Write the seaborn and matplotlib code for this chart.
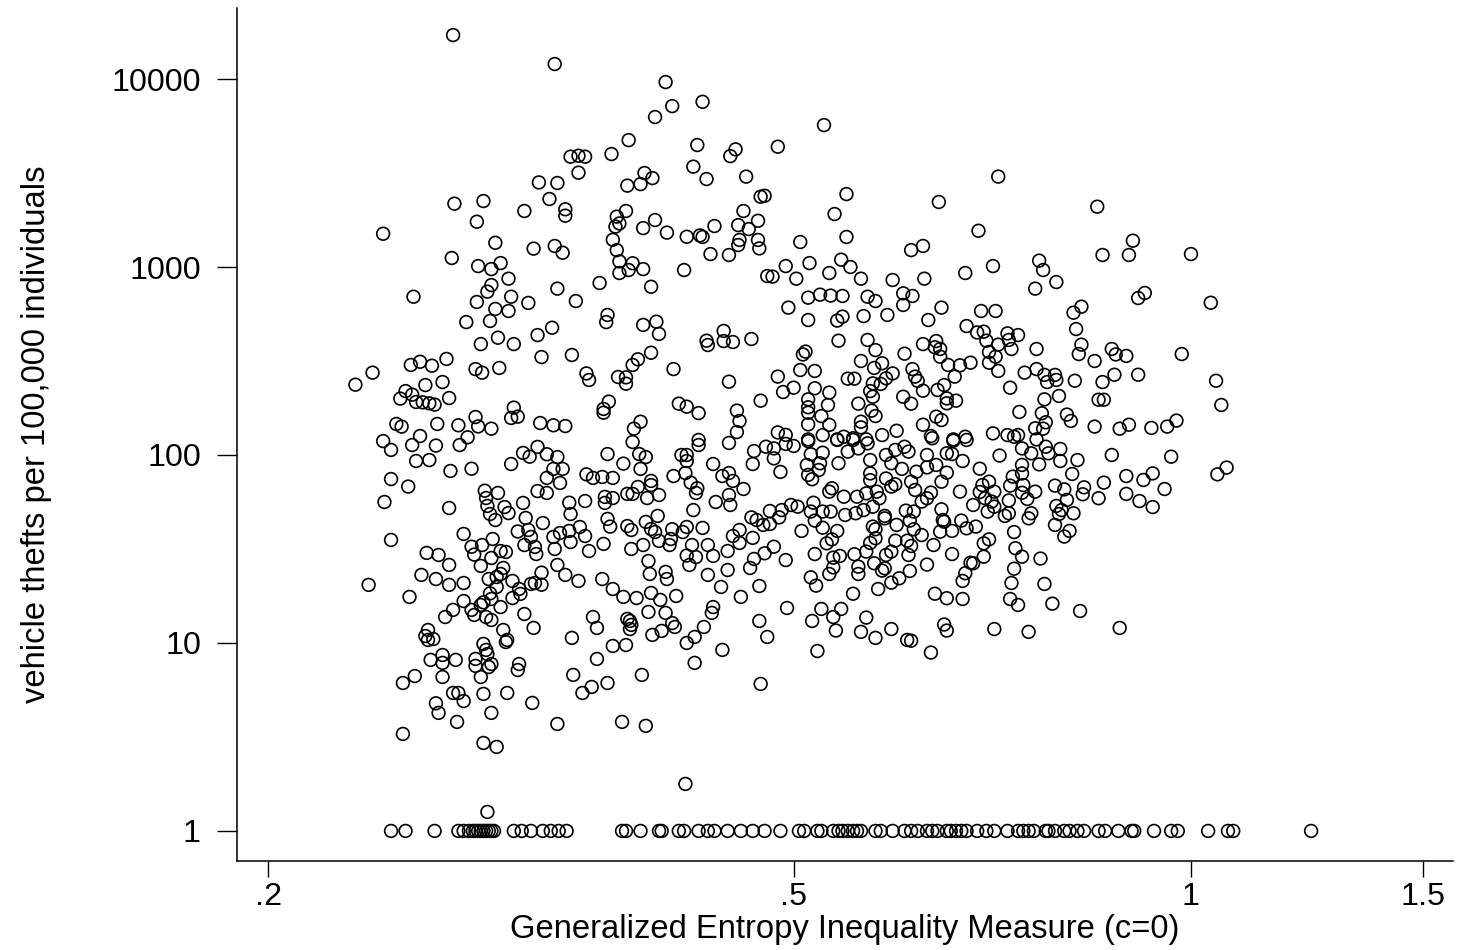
import numpy as np
import pandas as pd
import matplotlib
matplotlib.use('AGG')
import matplotlib.pyplot as plt
from matplotlib.ticker import FixedLocator, FixedFormatter, NullLocator
import seaborn as sns

sns.set_theme(style="ticks")
plt.rcParams['font.family'] = ['Liberation Sans', 'DejaVu Sans']

# values, kept as log10 of the axis value
upper_left_x = [-.559,-.482,-.398,-.370,-.393,-.406,-.426,-.374,-.345,-.349,
 -.439,-.470,-.464,-.459,-.377,-.464,-.414,-.408,-.494,-.480,
 -.417,-.427,-.367,-.337,-.558,-.536,-.486,-.505,-.474,-.474,
 -.428,-.435,-.433,-.436,-.406,-.339,-.326,-.328,-.541,-.415,
 -.397,-.382,-.372,-.370,-.361,-.343,-.335,-.612,-.438,-.342,
 -.343,-.328,-.327,-.527,-.498,-.482,-.476,-.435,-.364,-.350,
 -.560,-.540,-.530,-.523,-.433,-.423,-.426,-.433,-.415,-.384,
 -.517,-.530,-.533,-.448,-.480,-.409,-.589,-.515,-.541,-.502,
 -.466,-.527,-.517,-.442,-.443,-.549,-.531,-.415,-.405,-.484,
 -.495,-.403,-.525,-.354,-.367,-.354,-.347,-.333,-.366,-.538,
 -.513,-.409,-.469,-.492,-.564,-.584,-.591,-.575,-.419,-.423,
 -.542,-.537,-.524,-.392,-.458,-.456,-.434,-.428,-.428,-.620,
 -.633,-.567,-.580,-.595,-.590,-.599,-.587,-.582,-.577,-.573,
 -.562,-.350,-.326,-.441,-.445,-.445,-.388,-.382,-.373,-.344,
 -.342,-.513,-.515,-.510,-.542,-.602,-.598,-.571,-.555,-.540,
 -.530,-.493,-.483,-.474,-.417,-.422,-.344]
upper_left_y = [4.234,4.080,3.984,3.879,3.856,3.798,3.675,3.649,3.626,3.590,
 3.601,3.587,3.592,3.587,3.534,3.502,3.500,3.473,3.450,3.447,
 3.441,3.433,3.468,3.481,3.337,3.351,3.362,3.298,3.307,3.273,
 3.298,3.268,3.232,3.215,3.250,3.298,3.374,3.246,3.241,3.207,
 3.183,3.161,3.168,3.160,3.218,3.223,3.202,3.177,3.145,3.144,
 3.117,3.144,3.099,3.129,3.098,3.112,3.076,3.090,3.069,3.064,
 3.048,3.005,2.989,3.021,3.030,3.020,2.984,2.968,2.989,2.984,
 2.938,2.904,2.869,2.915,2.885,2.895,2.842,2.842,2.814,2.809,
 2.819,2.777,2.766,2.745,2.707,2.707,2.713,2.692,2.709,2.677,
 2.638,2.644,2.624,2.660,2.608,2.606,2.601,2.617,2.585,2.590,
 2.590,2.544,2.532,2.521,2.511,2.496,2.479,2.475,2.509,2.479,
 2.457,2.438,2.463,2.457,2.434,2.399,2.415,2.413,2.379,2.438,
 2.374,2.388,2.372,2.340,2.321,2.300,2.282,2.280,2.275,2.268,
 2.303,2.390,2.289,2.284,2.245,2.225,2.273,2.257,2.223,2.236,
 2.181,2.252,2.197,2.204,2.202,2.165,2.151,2.165,2.158,2.152,
 2.140,2.170,2.158,2.154,2.177,2.140,2.122]

upper_right_x = [-.278,-.313,-.146,-.261,-.323,-.191,-.071,-.270,-.161,-.261,
 -.296,-.044,-.212,-.203,-.067,-.047,.000,-.265,-.289,-.258,
 -.150,-.115,-.112,-.307,-.321,-.317,-.299,-.274,-.250,-.226,
 -.202,-.171,-.102,-.118,-.035,-.040,.015,-.290,-.281,-.273,
 -.264,-.245,-.239,-.218,-.211,-.218,-.305,-.189,-.159,-.148,
 -.083,-.089,-.290,-.264,-.268,-.248,-.230,-.199,-.170,-.162,
 -.157,-.087,-.139,-.131,-.267,-.245,-.203,-.193,-.155,-.138,
 -.146,-.083,-.239,-.194,-.190,-.136,-.117,-.060,-.292,-.294,
 -.217,-.153,-.007,-.085,-.057,-.049,-.250,-.190,-.148,-.073,
 -.234,-.184,-.175,-.167,-.153,-.240,-.296,-.285,-.211,-.146,
 -.126,-.117,-.226,-.313,-.260,-.255,-.231,-.209,-.179,-.111,
 -.103,-.102,-.058,-.040,-.088,-.067,-.109,.019,-.241,-.235,
 -.207,-.301,-.285,-.187,-.137,-.309,-.274,-.243,-.203,-.192,
 -.241,-.218,-.100,-.290,-.252,-.212,-.275,-.185,-.178,-.185,
 -.111,-.070,-.066,-.290,-.290,-.242,.023,-.130,-.113,-.094,
 -.280,-.239,-.193,-.091,-.250,-.189,-.290,-.274,-.110,-.203,
 -.073,-.047,-.011,-.018,-.054,-.030,-.118,-.112,-.250,-.223,
 -.313,-.307,-.290,-.279,-.268,-.263,-.256,-.246,-.234,-.197,
 -.180,-.171,-.150,-.139,-.131,-.134,-.117]
upper_right_y = [3.755,3.640,3.481,3.388,3.379,3.346,3.321,3.282,3.193,3.160,
 3.133,3.140,3.090,3.112,3.064,3.064,3.069,3.039,3.021,3.000,
 3.005,3.034,2.984,3.005,2.952,2.949,2.938,2.968,2.938,2.931,
 2.938,2.968,2.920,2.885,2.862,2.835,2.810,2.837,2.853,2.848,
 2.846,2.842,2.819,2.860,2.846,2.798,2.784,2.784,2.766,2.766,
 2.789,2.757,2.718,2.736,2.715,2.739,2.745,2.718,2.686,2.652,
 2.656,2.670,2.647,2.638,2.608,2.612,2.590,2.606,2.608,2.612,
 2.587,2.587,2.558,2.573,2.564,2.564,2.564,2.564,2.550,2.535,
 2.539,2.548,2.537,2.537,2.535,2.527,2.500,2.523,2.523,2.500,
 2.488,2.479,2.477,2.491,2.491,2.463,2.452,2.447,2.457,2.447,
 2.438,2.457,2.434,2.417,2.406,2.406,2.408,2.417,2.417,2.426,
 2.426,2.399,2.427,2.427,2.395,2.388,2.388,2.395,2.381,2.378,
 2.394,2.358,2.355,2.372,2.358,2.335,2.332,2.340,2.342,2.346,
 2.310,2.310,2.314,2.296,2.273,2.273,2.266,2.301,2.289,2.275,
 2.296,2.294,2.294,2.254,2.225,2.236,2.266,2.229,2.222,2.215,
 2.207,2.207,2.204,2.181,2.177,2.186,2.163,2.160,2.174,2.161,
 2.151,2.161,2.183,2.151,2.140,2.144,2.142,2.140,2.147,2.129,
 2.120,2.107,2.083,2.106,2.083,2.097,2.089,2.083,2.106,2.101,
 2.083,2.097,2.115,2.106,2.106,2.097,2.083]

lower_left_x = [-.612,-.606,-.590,-.584,-.572,-.554,-.548,-.587,-.577,-.561,
 -.545,-.606,-.593,-.611,-.562,-.606,-.515,-.506,-.501,-.495,
 -.488,-.480,-.442,-.430,-.423,-.418,-.413,-.417,-.386,-.382,
 -.382,-.373,-.373,-.362,-.350,-.331,-.332,-.483,-.476,-.488,
 -.478,-.495,-.488,-.458,-.453,-.446,-.438,-.409,-.409,-.419,
 -.392,-.383,-.379,-.374,-.375,-.355,-.350,-.347,-.339,-.535,
 -.525,-.534,-.533,-.520,-.517,-.531,-.527,-.506,-.504,-.491,
 -.510,-.502,-.500,-.551,-.529,-.545,-.537,-.543,-.579,-.570,
 -.562,-.530,-.538,-.523,-.519,-.505,-.497,-.496,-.483,-.478,
 -.471,-.463,-.459,-.470,-.482,-.456,-.445,-.471,-.459,-.470,
 -.444,-.444,-.438,-.427,-.423,-.412,-.403,-.442,-.440,-.427,
 -.424,-.413,-.404,-.409,-.403,-.406,-.424,-.415,-.393,-.394,
 -.395,-.385,-.382,-.370,-.377,-.360,-.350,-.349,-.378,-.366,
 -.382,-.375,-.380,-.362,-.351,-.347,-.342,-.342,-.333,-.329,
 -.332,-.331,-.334,-.351,-.366,-.356,-.341,-.327,-.411,-.410,
 -.398,-.397,-.480,-.474,-.464,-.446,-.438,-.430,-.420,-.409,
 -.402,-.390,-.411,-.398,-.362,-.363,-.327,-.369,-.376,-.382,
 -.393,-.391,-.401,-.408,-.453,-.450,-.427,-.425,-.424,-.425,
 -.469,-.438,-.428,-.450,-.355,-.376,-.416,-.468,-.442,-.454,
 -.461,-.326,-.431,-.413,-.480,-.383,-.492,-.497,-.500,-.492,
 -.514,-.521,-.523,-.526,-.532,-.526,-.509,-.508,-.514,-.531,
 -.530,-.536,-.523,-.551,-.562,-.572,-.583,-.623,-.592,-.551,
 -.559,-.565,-.545,-.543,-.538,-.534,-.530,-.505,-.498,-.521,
 -.518,-.519,-.578,-.580,-.578,-.574,-.536,-.534,-.533,-.567,
 -.576,-.567,-.557,-.542,-.542,-.530,-.532,-.509,-.510,-.538,
 -.567,-.588,-.597,-.559,-.555,-.536,-.518,-.551,-.572,-.570,
 -.530,-.499,-.556,-.597,-.536,-.526,-.533]
lower_left_y = [2.074,2.027,2.053,2.101,2.050,2.053,2.094,1.968,1.973,1.915,
 1.927,1.872,1.832,1.750,1.718,1.548,1.952,2.011,1.991,2.043,
 2.004,1.989,2.005,1.954,2.069,2.005,1.989,1.926,2.000,2.000,
 1.968,2.080,2.053,1.952,2.064,2.021,1.952,1.926,1.926,1.878,
 1.851,1.808,1.798,1.897,1.878,1.883,1.878,1.862,1.840,1.830,
 1.888,1.904,1.853,1.823,1.798,1.888,1.904,1.862,1.819,1.810,
 1.798,1.771,1.729,1.723,1.691,1.686,1.654,1.745,1.665,1.638,
 1.593,1.601,1.564,1.580,1.553,1.512,1.521,1.470,1.479,1.468,
 1.415,1.452,1.410,1.489,1.484,1.521,1.511,1.473,1.564,1.585,
 1.596,1.617,1.569,1.537,1.500,1.489,1.527,1.746,1.755,1.686,
 1.777,1.745,1.771,1.793,1.793,1.771,1.787,1.660,1.619,1.622,
 1.601,1.644,1.676,1.606,1.543,1.590,1.500,1.521,1.605,1.553,
 1.521,1.590,1.617,1.612,1.707,1.750,1.787,1.734,1.521,1.521,
 1.465,1.457,1.415,1.463,1.489,1.569,1.601,1.532,1.668,1.654,
 1.559,1.447,1.399,1.388,1.362,1.298,1.245,1.303,1.436,1.367,
 1.378,1.340,1.415,1.362,1.330,1.340,1.287,1.245,1.239,1.266,
 1.229,1.250,1.165,1.160,1.191,1.160,1.117,1.085,1.032,1.000,
 1.106,1.085,1.064,1.043,1.138,1.080,1.128,1.117,1.096,1.074,
 1.027,.984,.989,.915,.963,.894,.830,.830,.787,.766,
 .734,.782,.580,.559,.569,.250,1.374,1.319,1.314,1.310,
 1.330,1.399,1.367,1.351,1.340,1.298,1.287,1.261,1.239,1.264,
 1.234,1.216,1.191,1.319,1.309,1.340,1.362,1.309,1.245,1.223,
 1.176,1.138,1.176,1.149,1.202,1.138,1.122,1.154,1.080,1.069,
 1.016,1.005,1.069,1.037,1.016,1.021,.995,.963,.941,.936,
 .910,.894,.910,.915,.878,.888,.872,.888,.856,.819,
 .819,.824,.787,.734,.734,.729,.734,.691,.679,.628,
 .628,.681,.580,.516,.468,.447,.101]

lower_right_x = [-.290,-.322,-.316,-.307,-.301,-.316,-.311,-.288,-.279,-.291,
 -.281,-.282,-.290,-.287,-.267,-.268,-.260,-.256,-.252,-.245,
 -.243,-.231,-.224,-.217,-.214,-.227,-.219,-.200,-.185,-.181,
 -.196,-.180,-.170,-.173,-.145,-.128,-.121,-.110,-.108,-.099,
 -.099,-.115,-.086,-.060,-.015,.027,.020,-.049,-.029,-.036,
 -.020,-.066,-.090,-.081,-.082,-.049,-.070,-.039,-.029,-.160,
 -.128,-.128,-.135,-.153,-.158,-.137,-.127,-.118,-.160,-.149,
 -.156,-.151,-.138,-.128,-.124,-.103,-.096,-.094,-.102,-.098,
 -.100,-.089,-.138,-.141,-.121,-.123,-.149,-.154,-.165,-.103,
 -.092,-.096,-.134,-.163,-.174,-.170,-.181,-.189,-.188,-.190,
 -.175,-.200,-.204,-.197,-.189,-.193,-.208,-.200,-.185,-.212,
 -.209,-.216,-.210,-.213,-.210,-.204,-.223,-.232,-.239,-.241,
 -.224,-.215,-.212,-.195,-.181,-.200,-.214,-.227,-.231,-.239,
 -.243,-.246,-.255,-.240,-.232,-.234,-.213,-.221,-.227,-.237,
 -.256,-.252,-.252,-.271,-.266,-.271,-.274,-.288,-.284,-.285,
 -.276,-.272,-.268,-.279,-.295,-.285,-.279,-.273,-.288,-.286,
 -.298,-.303,-.310,-.319,-.312,-.319,-.324,-.316,-.323,-.307,
 -.262,-.254,-.248,-.241,-.236,-.246,-.253,-.263,-.272,-.274,
 -.243,-.243,-.231,-.227,-.224,-.238,-.232,-.187,-.153,-.157,
 -.157,-.165,-.167,-.171,-.173,-.133,-.128,-.114,-.134,-.136,
 -.111,-.137,-.131,-.105,-.084,-.054,-.149,-.123,-.187,-.185,
 -.173,-.185,-.194,-.197,-.227,-.246,-.250,-.239,-.215,-.212,
 -.269,-.287,-.280,-.265,-.271,-.306,-.321,-.283]
lower_right_y = [2.074,2.044,2.035,2.059,2.048,1.982,1.910,2.004,2.012,1.947,
 1.956,1.920,1.894,1.871,1.956,2.080,2.018,2.080,2.035,2.062,
 1.973,2.000,2.027,2.044,2.018,1.956,1.926,2.000,2.009,2.005,
 2.089,2.076,2.080,1.968,1.997,2.035,2.009,2.044,2.009,2.032,
 1.968,1.950,1.973,2.000,1.991,1.933,1.897,1.888,1.902,1.867,
 1.819,1.853,1.899,1.828,1.791,1.793,1.770,1.755,1.723,1.927,
 1.947,1.902,1.885,1.858,1.840,1.837,1.840,1.805,1.803,1.805,
 1.770,1.752,1.758,1.799,1.766,1.837,1.817,1.761,1.729,1.707,
 1.686,1.690,1.690,1.676,1.690,1.663,1.725,1.699,1.734,1.628,
 1.596,1.566,1.590,1.619,1.651,1.610,1.596,1.711,1.654,1.592,
 1.805,1.770,1.752,1.800,1.858,1.947,1.911,1.934,1.906,1.858,
 1.814,1.704,1.699,1.651,1.605,1.574,1.628,1.663,1.605,1.619,
 1.544,1.544,1.516,1.521,1.473,1.417,1.468,1.486,1.468,1.557,
 1.532,1.486,1.472,1.424,1.397,1.385,1.383,1.344,1.321,1.287,
 1.262,1.406,1.367,1.454,1.463,1.402,1.367,1.349,1.305,1.473,
 1.530,1.551,1.596,1.613,1.596,1.651,1.699,1.699,1.699,1.746,
 1.725,1.734,1.707,1.702,1.668,1.633,1.628,1.512,1.477,1.441,
 1.681,1.690,1.707,1.725,1.770,1.796,1.778,1.778,1.823,1.805,
 1.902,1.866,1.875,1.832,1.844,1.805,1.676,1.645,1.551,1.530,
 1.459,1.424,1.427,1.371,1.330,1.504,1.459,1.449,1.395,1.319,
 1.314,1.234,1.202,1.209,1.170,1.080,1.074,1.059,1.098,1.066,
 1.234,1.238,1.262,.949,1.074,1.135,1.059,1.027,1.016,1.012,
 1.066,1.117,1.181,1.181,1.138,1.186,1.032,.957]

# places with exactly one theft per 100,000 sit on the bottom row
one_theft_x = [-.606,-.595,-.573,-.555,-.551,-.547,-.544,-.542,-.540,-.538,
 -.536,-.534,-.532,-.530,-.528,-.513,-.507,-.500,-.491,-.485,
 -.479,-.473,-.431,-.428,-.417,-.403,-.401,-.388,-.384,-.373,
 -.366,-.361,-.351,-.341,-.332,-.323,-.311,-.297,-.293,-.283,
 -.280,-.271,-.267,-.264,-.260,-.256,-.253,-.250,-.239,-.235,
 -.226,-.217,-.212,-.207,-.200,-.196,-.192,-.185,-.182,-.178,
 -.174,-.170,-.162,-.155,-.149,-.139,-.131,-.127,-.123,-.119,
 -.110,-.108,-.103,-.096,-.092,-.086,-.081,-.070,-.065,-.055,
 -.045,-.043,-.028,-.015,-.010,.013,.028,.032,.091]

x_ticks = [.2, .5, 1, 1.5]
x_labels = ['.2', '.5', '1', '1.5']
y_ticks = [1, 10, 100, 1000, 10000]
y_labels = ['1', '10', '100', '1000', '10000']

log_x = np.array(upper_left_x + upper_right_x + lower_left_x + lower_right_x + one_theft_x)
log_y = np.array(upper_left_y + upper_right_y + lower_left_y + lower_right_y + [0.0] * len(one_theft_x))
df = pd.DataFrame({'inequality': 10 ** log_x, 'thefts': 10 ** log_y})

fig = plt.figure(figsize=(14.59, 9.5), dpi=100)
ax = fig.add_axes([237 / 1459, 1 - 861 / 950, (1453 - 237) / 1459, (861 - 8) / 950])
sns.scatterplot(data=df, x='inequality', y='thefts', ax=ax, s=84,
                facecolors='none', edgecolor='black', linewidth=1.2)

ax.set_xscale('log')
ax.set_yscale('log')
ax.set_xlim(10 ** -.7227, 10 ** .1985)
ax.set_ylim(10 ** -.160, 10 ** 4.378)
ax.xaxis.set_major_locator(FixedLocator(x_ticks))
ax.xaxis.set_major_formatter(FixedFormatter(x_labels))
ax.xaxis.set_minor_locator(NullLocator())
ax.yaxis.set_major_locator(FixedLocator(y_ticks))
ax.yaxis.set_major_formatter(FixedFormatter(y_labels))
ax.yaxis.set_minor_locator(NullLocator())

ax.spines['top'].set_visible(False)
ax.spines['right'].set_visible(False)
for side in ['left', 'bottom']:
    ax.spines[side].set_linewidth(1.1)
    ax.spines[side].set_color('black')
ax.tick_params(axis='y', which='major', length=14.5, width=1.0, labelsize=23.2,
               color='black', labelcolor='black', pad=11.5)
ax.tick_params(axis='x', which='major', length=11.7, width=1.0, labelsize=23.2,
               color='black', labelcolor='black', pad=3.5)

ax.set_xlabel('Generalized Entropy Inequality Measure (c=0)', fontsize=23.6, labelpad=1.5, color='black')
ax.set_ylabel('vehicle thefts per 100,000 individuals', fontsize=23.6, labelpad=42.5, color='black')

fig.savefig('out.png', dpi=100)
